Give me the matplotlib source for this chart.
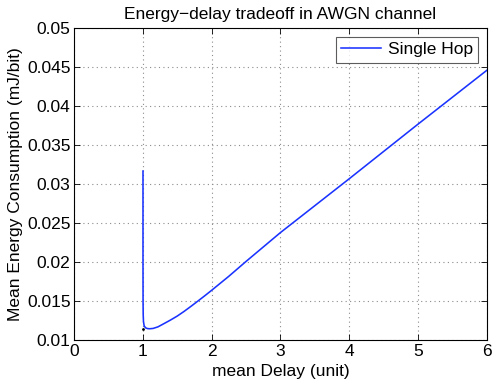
import matplotlib
matplotlib.use("Agg")
import matplotlib.pyplot as plt

plt.rcParams['font.family'] = ['Liberation Sans', 'DejaVu Sans']

# Data
delay = [1.003, 1.003, 1.004, 1.006, 1.010, 1.02, 1.04, 1.07, 1.10, 1.15, 1.22,
         1.30, 1.40, 1.50, 1.60, 1.70, 1.80, 1.90, 2.0, 2.25, 2.5, 3.0, 4.0, 5.0, 6.0]
energy = [0.0317, 0.0200, 0.0150, 0.0133, 0.0124, 0.01185, 0.01160, 0.01150,
          0.01148, 0.01152, 0.01172, 0.01210, 0.01258, 0.01310, 0.01370,
          0.01435, 0.01502, 0.01570, 0.01640, 0.01820, 0.02010, 0.0238,
          0.0307, 0.0377, 0.0446]
dot_x = [1.0]
dot_y = [0.01149]

xticks = [0, 1, 2, 3, 4, 5, 6]
yticks = [0.01, 0.015, 0.02, 0.025, 0.03, 0.035, 0.04, 0.045, 0.05]
ytick_labels = ['0.01', '0.015', '0.02', '0.025', '0.03', '0.035', '0.04', '0.045', '0.05']

FS = 12.5

fig = plt.figure(figsize=(4.98, 3.87), dpi=100)
ax = fig.add_axes([0.1486, 0.1207, 0.9773 - 0.1486, 0.9269 - 0.1207])

ax.plot(delay, energy, color='#1a33ff', lw=1.15, label='Single Hop')
ax.plot(dot_x, dot_y, 'o', color='black', ms=2.0, mew=0)

ax.set_xlim(0, 6)
ax.set_ylim(0.01, 0.05)
ax.set_xticks(xticks)
ax.set_xticklabels([str(t) for t in xticks])
ax.set_yticks(yticks)
ax.set_yticklabels(ytick_labels)

ax.tick_params(direction='in', length=4, width=0.6, top=True, right=True,
               labelsize=FS, pad=2.5)
for s in ax.spines.values():
    s.set_linewidth(0.8)

ax.grid(True, color='0.55', linestyle=(0, (1, 3)), linewidth=0.8)

ax.set_xlabel('mean Delay (unit)', fontsize=FS, labelpad=3.5)
ax.set_ylabel('Mean Energy Consumption (mJ/bit)', fontsize=FS, labelpad=3)
ax.set_title('Energy\u2212delay tradeoff in AWGN channel', fontsize=FS, pad=7)

leg = ax.legend(loc='upper right', fontsize=FS, frameon=True, fancybox=False,
                edgecolor='0.2', borderpad=0.3, handlelength=2.3,
                handletextpad=0.4, borderaxespad=0.5)
leg.get_frame().set_linewidth(0.8)

fig.savefig('out.png', dpi=100)
